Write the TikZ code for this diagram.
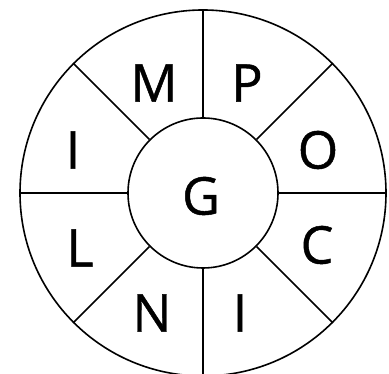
\documentclass[tikz,border=0pt]{standalone}
\usepackage{fontspec}
\setmainfont{Open Sans}
\newfontfamily\letterfont{Open Sans}[FakeBold=0.9]
\usepackage{tikz}

\begin{document}
\begin{tikzpicture}[x=1pt,y=1pt,line width=1.6pt]
	\useasboundingbox (0,0) rectangle (389,374);
	\tikzset{ring/.style={circle, draw, inner sep=0pt},
		letter/.style={font=\letterfont\fontsize{52}{52}\selectfont, inner sep=0pt}}
	\node[ring, minimum size=366pt] (rim) at (203,181) {};
	\node[ring, minimum size=150pt] (hub) at (203,181) {};
	\foreach \a in {0,45,...,315}
		\draw (hub.\a) -- (rim.\a);
	\node[letter] (g)  at (201,178) {G};
	\node[letter] (m)  at (154,291) {M};
	\node[letter] (p)  at (247,291) {P};
	\node[letter] (i1) at (73,224)  {I};
	\node[letter] (o)  at (318,224) {O};
	\node[letter] (l)  at (80,126)  {L};
	\node[letter] (c)  at (317,129) {C};
	\node[letter] (n)  at (152,61)  {N};
	\node[letter] (i2) at (240,61)  {I};
\end{tikzpicture}
\end{document}
